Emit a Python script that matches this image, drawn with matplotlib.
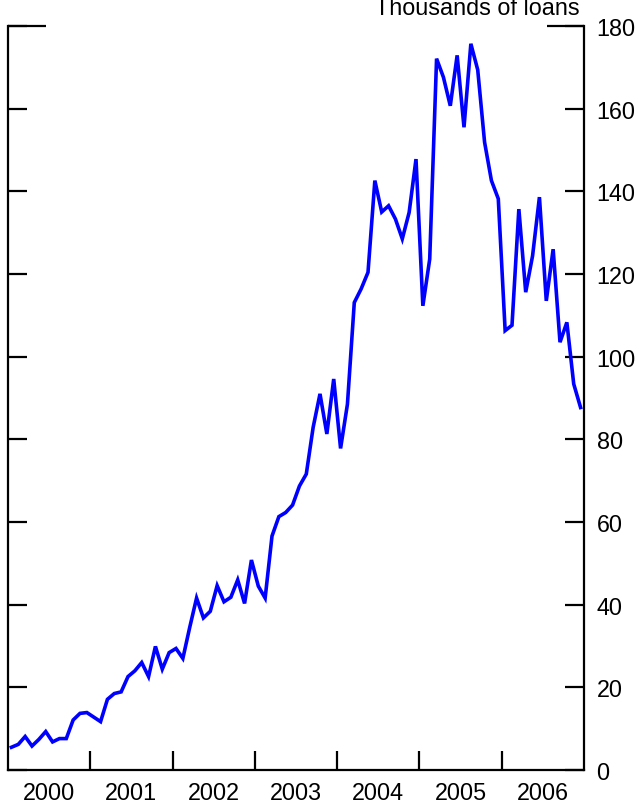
import matplotlib
matplotlib.use("Agg")
import matplotlib.pyplot as plt
import numpy as np

plt.rcParams['font.family'] = ['Liberation Sans', 'DejaVu Sans']

# Monthly values, Jan 2000 - Dec 2006 (thousands of loans)
values = [5.5, 6.2, 8.1, 5.8, 7.4, 9.3, 6.8, 7.6, 7.6, 12.1, 13.7, 13.9,
          12.8, 11.7, 17.1, 18.5, 18.9, 22.6, 24.0, 26.0, 22.6, 29.9, 24.4, 28.4,
          29.4, 27.0, 34.5, 41.6, 36.8, 38.4, 44.6, 40.7, 41.8, 46.0, 40.3, 50.8,
          44.5, 41.6, 56.6, 61.3, 62.3, 64.1, 68.7, 71.6, 82.9, 91.0, 81.3, 94.6,
          77.8, 88.5, 113.1, 116.4, 120.4, 142.6, 135.0, 136.5, 133.3, 128.5, 134.9, 147.8,
          112.3, 123.6, 172.1, 167.6, 160.7, 172.9, 155.5, 175.7, 169.4, 151.9, 142.6, 138.2,
          106.3, 107.6, 135.7, 115.6, 124.4, 138.6, 113.5, 126.0, 103.5, 108.3, 93.4, 87.7]
start_year = 2000
years = [2000, 2001, 2002, 2003, 2004, 2005, 2006]
yticks = [0, 20, 40, 60, 80, 100, 120, 140, 160, 180]

x = start_year + (np.arange(len(values)) + 0.5) / 12.0

fig = plt.figure(figsize=(6.39, 8.04), dpi=100)
ax = fig.add_axes([8/639, 1 - 771/804, 576/639, 744/804])

ax.plot(x, values, color='#0000ff', lw=2.6, solid_joinstyle='miter')

ax.set_xlim(2000, 2007)
ax.set_ylim(0, 180)

ax.spines['top'].set_visible(False)
for s in ['left', 'right', 'bottom']:
    ax.spines[s].set_linewidth(1.6)

ax.set_xticks(years[1:])
ax.set_xticklabels([])
ax.set_xticks([y + 0.5 for y in years], minor=True)
ax.set_xticklabels([str(y) for y in years], minor=True)
ax.tick_params(axis='x', which='major', direction='in', length=13.7, width=1.6)
ax.tick_params(axis='x', which='minor', length=0, labelsize=16.8, pad=8)

ax.set_yticks(yticks)
ax.yaxis.set_ticks_position('both')
ax.tick_params(axis='y', which='major', direction='in', length=13.7, width=1.6,
               left=True, right=True, labelleft=False, labelright=True,
               labelsize=16.8, pad=9)

# longer segments at the top
ax.plot([0, 38/576], [1, 1], transform=ax.transAxes, color='black', lw=1.6,
        clip_on=False, solid_capstyle='butt')
ax.plot([1 - 37/576, 1], [1, 1], transform=ax.transAxes, color='black', lw=1.6,
        clip_on=False, solid_capstyle='butt')

fig.text(580/639, 1 - 15/804, 'Thousands of loans', ha='right', va='baseline',
         fontsize=16.8)

fig.savefig('out.png', dpi=100)
